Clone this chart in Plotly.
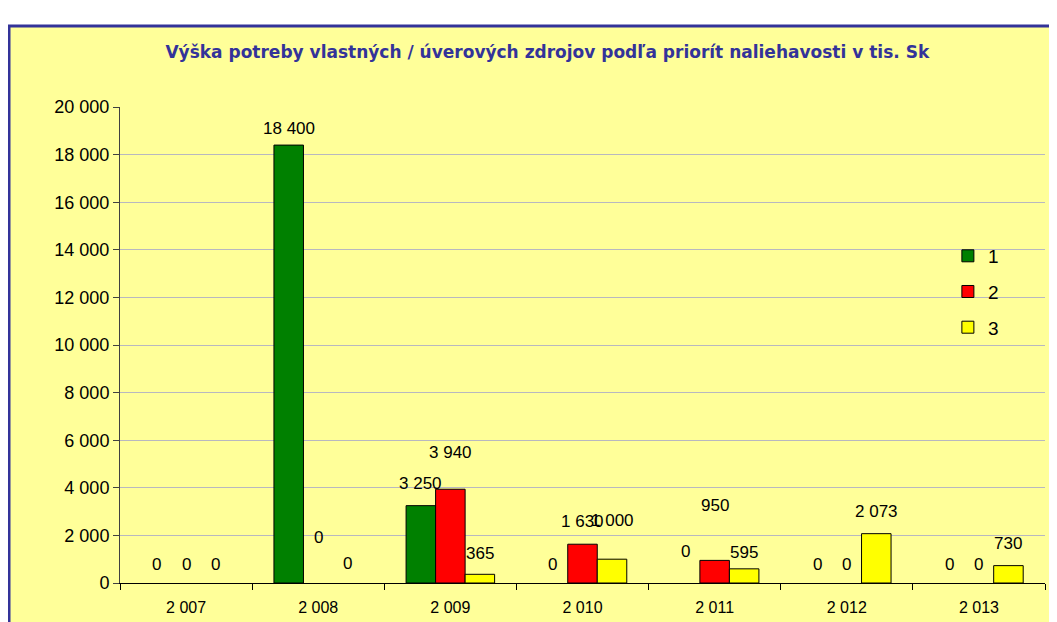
import plotly.graph_objects as go

years = [2007, 2008, 2009, 2010, 2011, 2012, 2013]
series_names = ["1", "2", "3"]
s1 = [0, 18400, 3250, 0, 0, 0, 0]
s2 = [0, 0, 3940, 1630, 950, 0, 0]
s3 = [0, 0, 365, 1000, 595, 2073, 730]
colors = ["#008000", "#FF0000", "#FFFF00"]
# label lift above bar top (px), as in the original Excel layout
label_lift = [
    [19, 17, 22, 19, 32, 19, 19],
    [19, 46, 37, 23, 55, 19, 19],
    [19, 20, 21, 39, 16, 22, 22],
]

title = "Výška potreby vlastných / úverových zdrojov podľa priorít naliehavosti v tis. Sk"

def fmt(v):
    return f"{v:,}".replace(",", " ")

xs = list(range(len(years)))
fig = go.Figure()
all_series = [s1, s2, s3]
bargap = 0.33
bw = (1 - bargap) / 3
for k, (name, vals, col) in enumerate(zip(series_names, all_series, colors)):
    fig.add_trace(go.Bar(
        x=xs, y=[v if v else None for v in vals], name=name,
        marker=dict(color=col, line=dict(color="black", width=1)),
        legendgroup=name, hoverinfo="y",
    ))
    for i, v in enumerate(vals):
        fig.add_annotation(
            x=i + (k - 1) * bw, y=v, xref="x", yref="y", text=fmt(v), showarrow=False,
            yanchor="middle", yshift=label_lift[k][i],
            font=dict(family="Liberation Sans, Arial", size=17, color="black"),
        )

# outer frame
fig.add_shape(type="rect", xref="paper", yref="paper", x0=-0.12, x1=1.2, y0=-0.3, y1=1.17,
              fillcolor="#FFFF99", line=dict(color="#333399", width=3), layer="below")

fig.update_layout(
    width=1057, height=622,
    margin=dict(l=112, r=20, t=99, b=47),
    paper_bgcolor="white", plot_bgcolor="rgba(0,0,0,0)",
    barmode="group", bargap=bargap, bargroupgap=0,
    separators=", ",
    title=dict(text="<b>" + title + "</b>", x=0.462, xref="paper", xanchor="center",
               y=1 - 44 / 622, yref="container", yanchor="middle",
               font=dict(family="DejaVu Sans", size=17, color="#333399")),
    legend=dict(x=0.895, y=0.727, xanchor="left", yanchor="top", bgcolor="rgba(0,0,0,0)",
                font=dict(family="Liberation Sans, Arial", size=19, color="black"),
                traceorder="grouped", tracegroupgap=8),
    showlegend=True,
    font=dict(family="Liberation Sans, Arial", color="black"),
)
fig.update_xaxes(
    range=[-0.5, 6.5], tickvals=xs, ticktext=[fmt(y) for y in years], ticks="",
    showline=True, linecolor="black", linewidth=1, showgrid=False, zeroline=False,
    tickfont=dict(size=16), ticklabelstandoff=10,
    minor=dict(tickvals=[i - 0.5 for i in range(len(years) + 1)], ticks="outside",
               ticklen=6, tickcolor="black", showgrid=False),
)
fig.update_yaxes(
    range=[0, 20000], dtick=2000, tickformat=",d", ticks="outside", ticklen=6,
    tickcolor="#404040", showline=True, linecolor="#404040", linewidth=1,
    gridcolor="#B8B8C0", gridwidth=1, zeroline=False, tickfont=dict(size=18),
)
fig.write_html("out.html")
